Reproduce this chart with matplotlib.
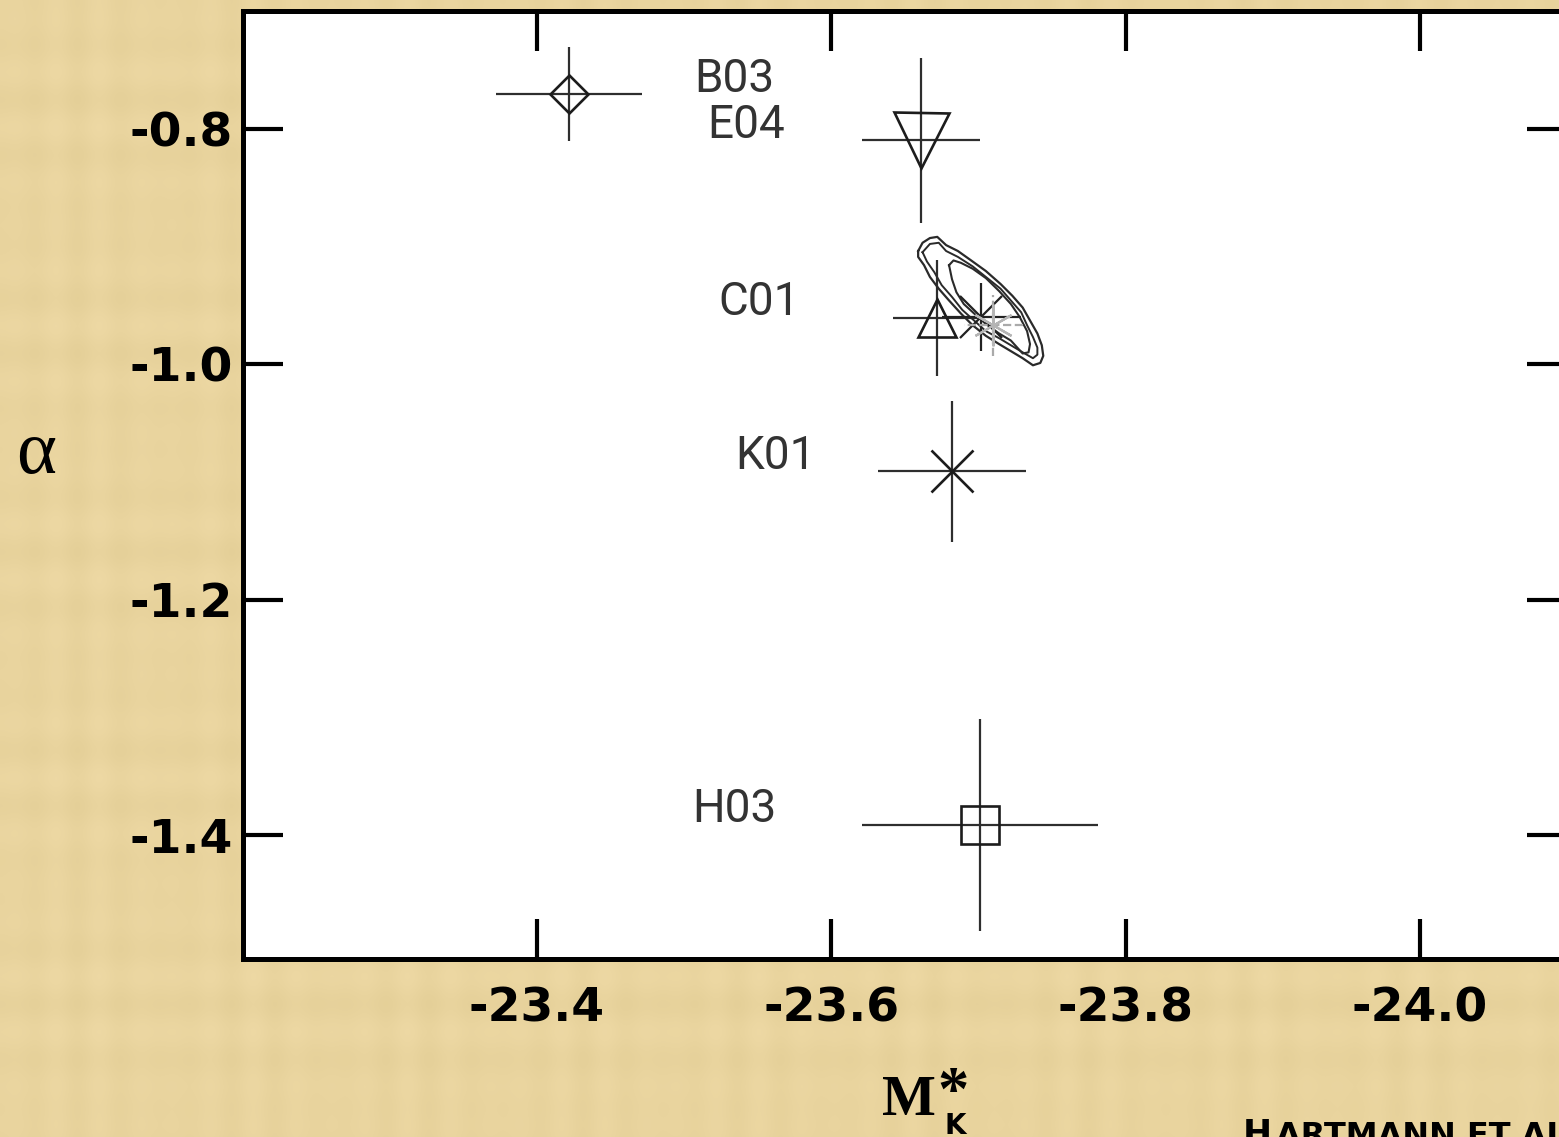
import matplotlib
matplotlib.use('Agg')
import matplotlib.pyplot as plt
import numpy as np

# ---------------- data ----------------
labels = ['B03', 'E04', 'C01', 'K01', 'H03']
mk_star = [-23.422, -23.661, -23.672, -23.682, -23.701]
alpha_vals = [-0.771, -0.810, -0.961, -1.091, -1.391]
mk_err = [0.0495, 0.040, 0.030, 0.050, 0.080]
alpha_err = [0.040, 0.070, 0.049, 0.060, 0.090]
label_x = [-23.534, -23.542, -23.551, -23.562, -23.534]
label_y = [-0.758, -0.797, -0.947, -1.078, -1.378]

# this work: best fits
this_mk = [-23.702, -23.710]
this_alpha = [-0.960, -0.967]
this_mk_err = [0.027, 0.020]
this_alpha_err = [0.029, 0.026]

# likelihood contours (this work)
contour_outer_x = [-23.659, -23.662, -23.667, -23.672, -23.678, -23.686, -23.695, -23.705,
                   -23.715, -23.723, -23.730, -23.735, -23.740, -23.743, -23.744, -23.742,
                   -23.737, -23.730, -23.722, -23.714, -23.705, -23.696, -23.688, -23.680,
                   -23.673, -23.667, -23.663, -23.659, -23.659]
contour_outer_y = [-0.904, -0.897, -0.893, -0.892, -0.899, -0.904, -0.912, -0.921,
                   -0.932, -0.942, -0.952, -0.963, -0.974, -0.984, -0.993, -0.999,
                   -1.001, -0.995, -0.989, -0.983, -0.976, -0.967, -0.957, -0.946,
                   -0.936, -0.926, -0.916, -0.909, -0.904]
contour_mid_x = [-23.662, -23.667, -23.673, -23.678, -23.686, -23.696, -23.705, -23.715,
                 -23.722, -23.729, -23.733, -23.737, -23.740, -23.740, -23.737, -23.730,
                 -23.722, -23.714, -23.705, -23.697, -23.689, -23.682, -23.675, -23.670,
                 -23.665, -23.662]
contour_mid_y = [-0.905, -0.898, -0.897, -0.904, -0.909, -0.917, -0.926, -0.936,
                 -0.946, -0.956, -0.967, -0.977, -0.986, -0.992, -0.995, -0.990,
                 -0.984, -0.978, -0.972, -0.963, -0.954, -0.943, -0.933, -0.922,
                 -0.913, -0.905]
contour_inner_x = [-23.680, -23.683, -23.688, -23.696, -23.705, -23.714, -23.722, -23.728,
                   -23.733, -23.735, -23.734, -23.730, -23.722, -23.714, -23.705, -23.697,
                   -23.690, -23.685, -23.682, -23.680]
contour_inner_y = [-0.916, -0.912, -0.914, -0.919, -0.927, -0.938, -0.949, -0.960,
                   -0.972, -0.983, -0.990, -0.991, -0.980, -0.974, -0.966, -0.957,
                   -0.949, -0.939, -0.928, -0.916]

xticks = [-23.4, -23.6, -23.8, -24.0]
xtick_labels = ['-23.4', '-23.6', '-23.8', '-24.0']
yticks = [-0.8, -1.0, -1.2, -1.4]
ytick_labels = ['-0.8', '-1.0', '-1.2', '-1.4']

# ---------------- figure ----------------
W, H = 1559, 1137
bg = '#E8D29B'
fig = plt.figure(figsize=(W / 100, H / 100), dpi=100, facecolor=bg)

# subtle deterministic parchment weave in the background
yy, xx = np.mgrid[0:H, 0:W]
weave = (0.5 * np.sin(xx / 7.0) * np.sin(xx / 53.0) + 0.5 * np.sin(yy / 9.0) * np.sin(yy / 71.0))
base = np.array([233, 212, 158]) / 255.0
tex = np.clip(base[None, None, :] + 0.017 * weave[..., None] * np.array([1.0, 1.0, 1.3]), 0, 1)
fig.figimage(tex, xo=0, yo=0, zorder=0)

ax = fig.add_axes([242.5 / W, (H - 959) / H, (1567.3 - 242.5) / W, (959 - 10.7) / H])
ax.set_zorder(2)
ax.set_facecolor('white')
ax.set_xlim(-23.2, -24.1)
ax.set_ylim(-1.505, -0.7)

ink = '#1c1c1c'
marker_specs = [('D', 19.3), ('v', 39.6), ('^', 27.4), ('x', 30.0), ('s', 28.0)]
for i in range(len(labels)):
    m, ms = marker_specs[i]
    ax.errorbar(mk_star[i], alpha_vals[i], xerr=mk_err[i], yerr=alpha_err[i],
                fmt='none', ecolor='#2e2e2e', elinewidth=1.6, capsize=0, zorder=3)
    ax.plot(mk_star[i], alpha_vals[i], marker=m, ms=ms, mfc='none', mec=ink,
            mew=1.9, linestyle='none', zorder=4)
    ax.text(label_x[i], label_y[i], labels[i], ha='center', va='center',
            fontsize=33, color='#333333', family=['Roboto', 'DejaVu Sans'],
            fontweight='normal', zorder=5)

# contours
for cx, cy, lw in [(contour_outer_x, contour_outer_y, 1.6),
                   (contour_mid_x, contour_mid_y, 1.4),
                   (contour_inner_x, contour_inner_y, 1.5)]:
    ax.plot(cx, cy, color='#2a2a2a', lw=lw, zorder=5)

# this work best-fit points
ax.errorbar(this_mk[0], this_alpha[0], xerr=this_mk_err[0], yerr=this_alpha_err[0],
            fmt='none', ecolor='#222222', elinewidth=1.6, capsize=0, zorder=6)
ax.plot(this_mk[0], this_alpha[0], marker='x', ms=30, mec='#222222', mew=1.6,
        linestyle='none', zorder=6)
eb = ax.errorbar(this_mk[1], this_alpha[1], xerr=this_mk_err[1], yerr=this_alpha_err[1],
                 fmt='none', ecolor='#aaaaaa', elinewidth=1.6, capsize=0, zorder=6)
for c in eb[2]:
    c.set_linestyle('--')
ax.plot(this_mk[1], this_alpha[1], marker=(6, 2, 0), ms=30, mec='#b5b5b5', mew=1.6,
        linestyle='none', zorder=6)

# axes styling
for s in ax.spines.values():
    s.set_linewidth(3.6)
    s.set_color('black')
ax.set_xticks(xticks)
ax.set_xticklabels(xtick_labels)
ax.set_yticks(yticks)
ax.set_yticklabels(ytick_labels)
ax.tick_params(direction='in', length=29, width=3, top=True, right=True,
               colors='black', labelsize=34)
ax.tick_params(axis='x', pad=20)
ax.tick_params(axis='y', pad=7)
for t in ax.get_xticklabels() + ax.get_yticklabels():
    t.set_fontweight('bold')
    t.set_family('DejaVu Sans')

# axis labels
fig.text(36 / W, (H - 473) / H, 'α', family=['Liberation Serif', 'DejaVu Serif'],
         fontsize=55, ha='center', va='baseline', color='black', zorder=3)
fig.text(909 / W, (H - 1115) / H, 'M', family=['Liberation Serif', 'DejaVu Serif'],
         fontweight='bold', fontsize=41, ha='center', va='baseline', color='black', zorder=3)
fig.text(953 / W, (H - 1110) / H, '*', family=['Liberation Serif', 'DejaVu Serif'],
         fontweight='bold', fontsize=45, ha='center', va='baseline', color='black', zorder=3)
fig.text(955 / W, (H - 1134) / H, 'K', family='DejaVu Sans',
         fontweight='bold', fontsize=20, ha='center', va='baseline', color='black', zorder=3)

# credit (cut off at bottom edge, as in the original slide)
fig.text(1243 / W, (H - 1145) / H, 'H', family='DejaVu Sans', fontweight='bold',
         fontsize=25, ha='left', va='baseline', color='black', zorder=3)
fig.text(1276 / W, (H - 1145) / H, 'ARTMANN ET AL.', family='DejaVu Sans',
         fontweight='bold', fontsize=23, ha='left', va='baseline', color='black', zorder=3)

fig.savefig('out.png', dpi=100, facecolor=bg)
